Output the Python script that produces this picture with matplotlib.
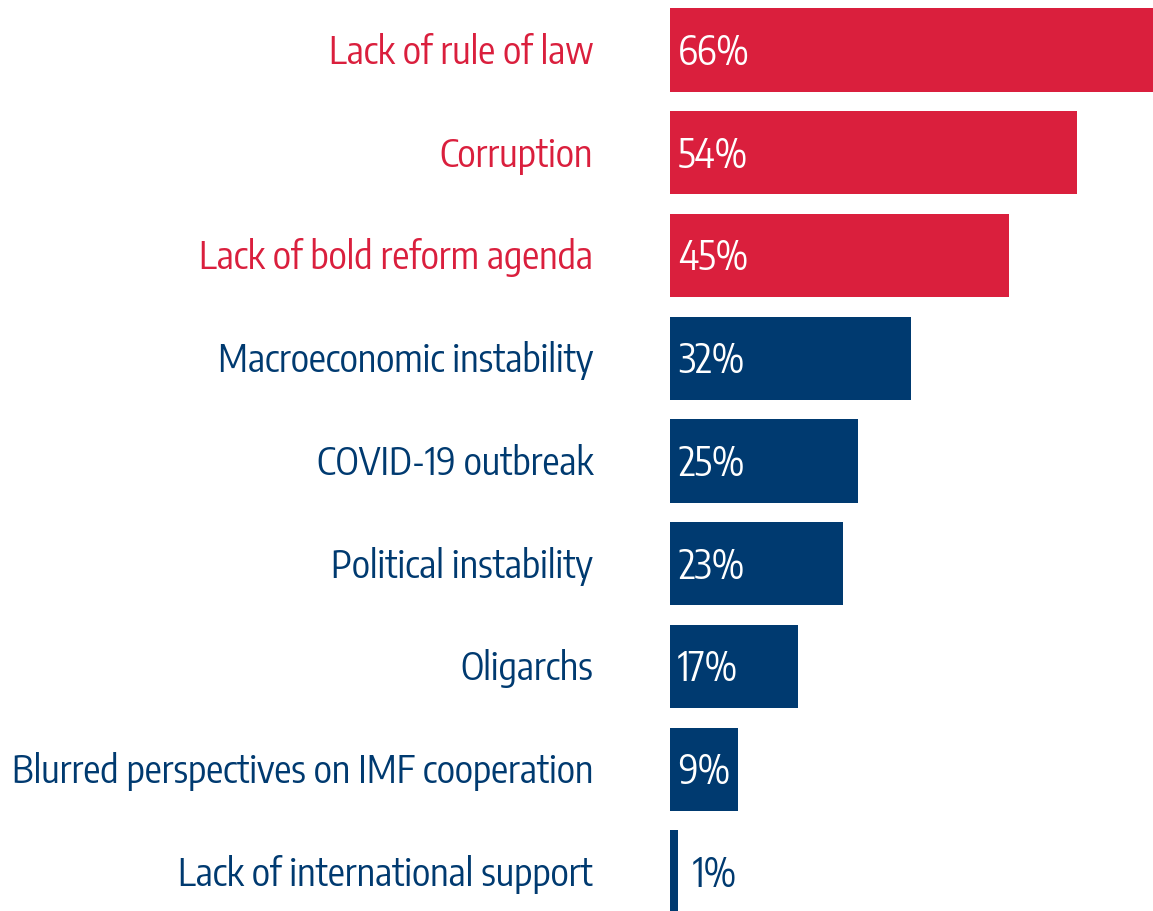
import matplotlib.pyplot as plt
from matplotlib import font_manager

# Barreiras ao investimento
categorias = ['Lack of rule of law', 'Corruption', 'Lack of bold reform agenda',
              'Macroeconomic instability', 'COVID-19 outbreak', 'Political instability',
              'Oligarchs', 'Blurred perspectives on IMF cooperation',
              'Lack of international support']
valores = [66, 54, 45, 32, 25, 23, 17, 9, 1]
destaque = [True, True, True, False, False, False, False, False, False]

vermelho = '#DA1F3D'
azul = '#003A70'

nomes = {f.name for f in font_manager.fontManager.ttflist}
fonte = 'Encode Sans Condensed' if 'Encode Sans Condensed' in nomes else 'Roboto Condensed'
plt.rcParams['font.family'] = [fonte, 'DejaVu Sans']

fig = plt.figure(figsize=(11.53, 9.11), dpi=100)
ax = fig.add_axes([670 / 1153, 0, 1 - 670 / 1153, 1])

cores = [vermelho if d else azul for d in destaque]
pos = list(range(len(valores)))
ax.barh(pos, valores, height=0.81, color=cores, left=0)

ax.set_xlim(0, 64.06)
ax.set_ylim(8.38, -0.487)
ax.axis('off')

for i, (nome, v, c) in enumerate(zip(categorias, valores, cores)):
    ax.text(-0.159, i + 0.136, nome, transform=ax.get_yaxis_transform(), ha='right',
            va='baseline', color=c, fontsize=27.4, clip_on=False)
    if v >= 5:
        ax.text(1.06, i + 0.145, f'{v}%', ha='left', va='baseline', color='white', fontsize=28)
    else:
        ax.text(v + 2.05, i + 0.145, f'{v}%', ha='left', va='baseline', color=c, fontsize=28)

plt.savefig('out.png', dpi=100)
